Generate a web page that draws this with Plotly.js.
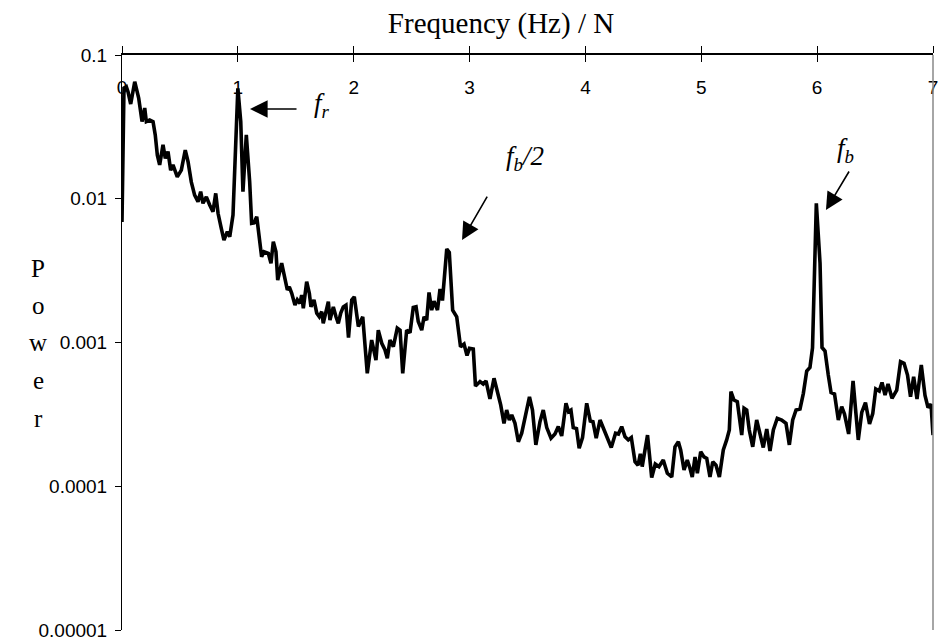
<!DOCTYPE html>
<html>
<head>
<meta charset="utf-8">
<script src="https://cdn.plot.ly/plotly-3.0.1.min.js"></script>
<style>
  html, body { margin: 0; padding: 0; background: #fff; }
  #chart { width: 945px; height: 642px; }
</style>
</head>
<body>
<div id="chart"></div>
<script>
// Normalised frequency (Hz / N)
const freq = [
  0, 0.017, 0.037, 0.052, 0.075, 0.110, 0.144, 0.173, 0.196, 0.210,
  0.239, 0.268, 0.287, 0.305, 0.325, 0.354, 0.374, 0.397, 0.420, 0.440,
  0.477, 0.512, 0.546, 0.570, 0.598, 0.627, 0.656, 0.679, 0.699, 0.728,
  0.757, 0.785, 0.809, 0.829, 0.857, 0.880, 0.909, 0.930, 0.958, 0.978,
  1.000, 1.025, 1.044, 1.073, 1.102, 1.119, 1.139, 1.163, 1.176, 1.191,
  1.205, 1.226, 1.263, 1.286, 1.306, 1.329, 1.344, 1.378, 1.407, 1.427,
  1.444, 1.465, 1.493, 1.513, 1.536, 1.551, 1.565, 1.594, 1.617, 1.631,
  1.657, 1.681, 1.703, 1.724, 1.737, 1.761, 1.781, 1.795, 1.824, 1.847,
  1.867, 1.888, 1.910, 1.933, 1.955, 1.983, 2.005, 2.040, 2.078, 2.117,
  2.155, 2.192, 2.212, 2.242, 2.270, 2.290, 2.313, 2.342, 2.376, 2.400,
  2.423, 2.457, 2.486, 2.514, 2.538, 2.557, 2.587, 2.607, 2.630, 2.650,
  2.673, 2.693, 2.723, 2.745, 2.766, 2.803, 2.825, 2.854, 2.889, 2.922,
  2.952, 2.978, 2.999, 3.032, 3.051, 3.090, 3.118, 3.142, 3.176, 3.211,
  3.239, 3.269, 3.297, 3.320, 3.343, 3.364, 3.392, 3.421, 3.450, 3.478,
  3.517, 3.543, 3.572, 3.608, 3.636, 3.666, 3.703, 3.737, 3.766, 3.795,
  3.832, 3.854, 3.875, 3.895, 3.923, 3.946, 3.975, 4.011, 4.042, 4.065,
  4.093, 4.126, 4.154, 4.184, 4.223, 4.260, 4.285, 4.313, 4.342, 4.370,
  4.396, 4.428, 4.454, 4.474, 4.490, 4.536, 4.572, 4.603, 4.635, 4.672,
  4.707, 4.745, 4.773, 4.802, 4.822, 4.851, 4.879, 4.903, 4.922, 4.946,
  4.966, 4.995, 5.023, 5.047, 5.075, 5.099, 5.127, 5.156, 5.190, 5.219,
  5.242, 5.256, 5.282, 5.311, 5.349, 5.369, 5.392, 5.414, 5.444, 5.478,
  5.507, 5.535, 5.565, 5.593, 5.622, 5.656, 5.694, 5.731, 5.760, 5.789,
  5.818, 5.852, 5.881, 5.910, 5.938, 5.960, 5.993, 6.025, 6.042, 6.068,
  6.096, 6.120, 6.150, 6.183, 6.212, 6.236, 6.272, 6.310, 6.336, 6.355,
  6.385, 6.417, 6.452, 6.480, 6.506, 6.536, 6.560, 6.586, 6.612, 6.646,
  6.687, 6.720, 6.750, 6.780, 6.806, 6.833, 6.862, 6.899, 6.931, 6.957,
  6.983, 7.000
];

// Spectral power at each frequency
const power = [
  0.00689, 0.0589, 0.0602, 0.0555, 0.0456, 0.0652, 0.0502, 0.0344, 0.0428, 0.0344,
  0.0353, 0.0344, 0.0278, 0.0201, 0.0172, 0.0237, 0.0191, 0.0213, 0.0158, 0.0172,
  0.0142, 0.0158, 0.0218, 0.0181, 0.0131, 0.0106, 0.00954, 0.0112, 0.0093, 0.0103,
  0.00905, 0.00813, 0.0109, 0.00792, 0.00623, 0.00516, 0.0059, 0.00545, 0.00771, 0.0181,
  0.0586, 0.0344, 0.0112, 0.0278, 0.0131, 0.00675, 0.0068, 0.0075, 0.00606, 0.0044,
  0.00395, 0.00428, 0.00417, 0.00356, 0.00503, 0.00428, 0.00272, 0.00356, 0.00272, 0.00232,
  0.00244, 0.0022, 0.00182, 0.00198, 0.00187, 0.00214, 0.00173, 0.00265, 0.0022, 0.00177,
  0.00198, 0.0016, 0.00151, 0.00164, 0.00136, 0.00164, 0.00192, 0.00143, 0.00177, 0.00151,
  0.00136, 0.0016, 0.00177, 0.00182, 0.00108, 0.00198, 0.00208, 0.00129, 0.00151, 0.00061,
  0.00104, 0.000755, 0.00122, 0.000987, 0.000887, 0.000776, 0.00104, 0.000935, 0.00126, 0.00122,
  0.00061, 0.00122, 0.00117, 0.00175, 0.00177, 0.0014, 0.00122, 0.00151, 0.00143, 0.00223,
  0.00168, 0.00194, 0.00168, 0.00236, 0.00196, 0.00447, 0.00423, 0.00168, 0.00151, 0.000935,
  0.000976, 0.000812, 0.000911, 0.0009, 0.000498, 0.000535, 0.000514, 0.00054, 0.000405, 0.000564,
  0.000467, 0.000367, 0.000274, 0.000339, 0.000289, 0.000313, 0.000274, 0.000204, 0.000234, 0.000298,
  0.000418, 0.000339, 0.000194, 0.000282, 0.000339, 0.000256, 0.000216, 0.000231, 0.00026, 0.000224,
  0.000378, 0.00033, 0.000339, 0.000256, 0.000252, 0.000184, 0.000218, 0.000378, 0.000284, 0.000281,
  0.000216, 0.000289, 0.000253, 0.000224, 0.000186, 0.000234, 0.000231, 0.00026, 0.000221, 0.00021,
  0.000218, 0.000148, 0.00014, 0.000168, 0.000137, 0.000227, 0.000115, 0.000143, 0.000137, 0.000152,
  0.000123, 0.000116, 0.000188, 0.000204, 0.000179, 0.00013, 0.000152, 0.000133, 0.000116, 0.00016,
  0.000123, 0.000174, 0.00016, 0.000156, 0.000116, 0.000148, 0.00014, 0.000116, 0.000179, 0.00021,
  0.000246, 0.000455, 0.000398, 0.000387, 0.000227, 0.000349, 0.000339, 0.000246, 0.000188, 0.000289,
  0.000234, 0.000186, 0.00025, 0.000176, 0.000246, 0.000297, 0.000289, 0.000274, 0.000194, 0.000289,
  0.000339, 0.000345, 0.000443, 0.000633, 0.00067, 0.000916, 0.0093, 0.00356, 0.000923, 0.000873,
  0.000594, 0.000449, 0.000438, 0.000289, 0.000358, 0.000318, 0.000231, 0.00054, 0.000313, 0.00021,
  0.000326, 0.000382, 0.000271, 0.00032, 0.000475, 0.00046, 0.000527, 0.000431, 0.000514, 0.000409,
  0.000467, 0.000735, 0.000717, 0.000594, 0.00042, 0.000578, 0.000405, 0.000698, 0.000428, 0.000353,
  0.000373, 0.000227
];

// Axis ticks
const xTicks = [0, 1, 2, 3, 4, 5, 6, 7];
const xTickText = ['0', '1', '2', '3', '4', '5', '6', '7'];
const yTicks = [0.00001, 0.0001, 0.001, 0.01, 0.1];
const yTickText = ['0.00001', '0.0001', '0.001', '0.01', '0.1'];

// Labelled peaks: label text, label position, arrow tip
const peakLabels = ['<i>f<sub>r</sub></i>', '<i>f<sub>b</sub>/2</i>', '<i>f<sub>b</sub></i>'];
const peakLabelX = [1.726, 3.478, 6.249];
const peakLabelY = [0.0449, 0.0192, 0.0218];
const arrowTipX = [1.105, 2.935, 6.076];
const arrowTipY = [0.0421, 0.00516, 0.00835];

const xTitle = 'Frequency (Hz) / N';
const yTitle = 'Power';

const sans = 'Arial, "Liberation Sans", sans-serif';
const serif = '"Times New Roman", "Liberation Serif", serif';

// plot-area geometry in px
const W = 945, H = 642;
const M = { l: 122, r: 12, t: 55, b: 12 };
const plotW = W - M.l - M.r, plotH = H - M.t - M.b;

const traces = [
  {
    x: freq, y: power, type: 'scatter', mode: 'lines',
    line: { color: '#000', width: 3.6 },
    showlegend: false, hoverinfo: 'skip'
  },
  { x: [], y: [], xaxis: 'x2', type: 'scatter', showlegend: false }
];

const annotations = [];
// arrows (tail offsets in px)
const arrowTail = [[48, 0], [26, -45], [24, -40]];
for (let i = 0; i < peakLabels.length; i++) {
  annotations.push({
    x: arrowTipX[i], y: Math.log10(arrowTipY[i]), xref: 'x', yref: 'y',
    text: '', showarrow: true, arrowhead: 2, arrowsize: 2.2, arrowwidth: 1.6,
    arrowcolor: '#000', ax: arrowTail[i][0], ay: arrowTail[i][1], standoff: 0
  });
  annotations.push({
    x: peakLabelX[i], y: Math.log10(peakLabelY[i]), xref: 'x', yref: 'y',
    text: peakLabels[i], showarrow: false, xanchor: 'center', yanchor: 'middle',
    font: { family: serif, size: 27, color: '#000' }
  });
}
// vertical, letter-stacked y title (pixel rows converted to paper fractions)
const letterRowPx = [268, 305, 342, 380, 418];
yTitle.split('').forEach((ch, i) => {
  annotations.push({
    x: (38 - M.l) / plotW, y: 1 - (letterRowPx[i] - M.t) / plotH,
    xref: 'paper', yref: 'paper',
    text: ch, showarrow: false, xanchor: 'center', yanchor: 'middle',
    font: { family: serif, size: 25, color: '#000' }
  });
});

const layout = {
  width: W, height: H,
  margin: { l: M.l, r: M.r, t: M.t, b: M.b, pad: 0 },
  paper_bgcolor: '#fff', plot_bgcolor: '#fff',
  showlegend: false,
  title: {
    text: xTitle, x: (501 - M.l) / plotW, xref: 'paper', y: 1 - 23 / H, yref: 'container',
    xanchor: 'center', yanchor: 'middle',
    font: { family: serif, size: 29, color: '#000' }
  },
  xaxis: {
    side: 'top', range: [0, 7], tickmode: 'array', tickvals: xTicks, ticktext: xTickText,
    ticks: 'outside', ticklen: 7, tickwidth: 1, tickcolor: '#000',
    ticklabelposition: 'inside', ticklabeloverflow: 'allow', ticklabelstandoff: 27,
    tickfont: { family: sans, size: 19, color: '#000' },
    showline: true, linecolor: '#000', linewidth: 2, showgrid: false, zeroline: false,
    anchor: 'y', fixedrange: true
  },
  xaxis2: {
    overlaying: 'x', matches: 'x', side: 'top', anchor: 'y', range: [0, 7],
    tickmode: 'array', tickvals: xTicks, ticks: 'inside', ticklen: 7, tickwidth: 1,
    tickcolor: '#000', showticklabels: false, showline: false, showgrid: false, zeroline: false
  },
  yaxis: {
    type: 'log', range: [-5, -1], tickmode: 'array', tickvals: yTicks, ticktext: yTickText,
    ticks: 'outside', ticklen: 6, tickwidth: 1, tickcolor: '#000', ticklabelstandoff: 4,
    tickfont: { family: sans, size: 19, color: '#000' },
    showline: true, linecolor: '#000', linewidth: 1, showgrid: false, zeroline: false,
    fixedrange: true
  },
  shapes: [
    { type: 'line', xref: 'paper', yref: 'paper', x0: 1, x1: 1, y0: 0, y1: 1,
      line: { color: '#888', width: 1.5 } }
  ],
  annotations: annotations
};

Plotly.newPlot('chart', traces, layout, { displayModeBar: false, staticPlot: true });
</script>
</body>
</html>
